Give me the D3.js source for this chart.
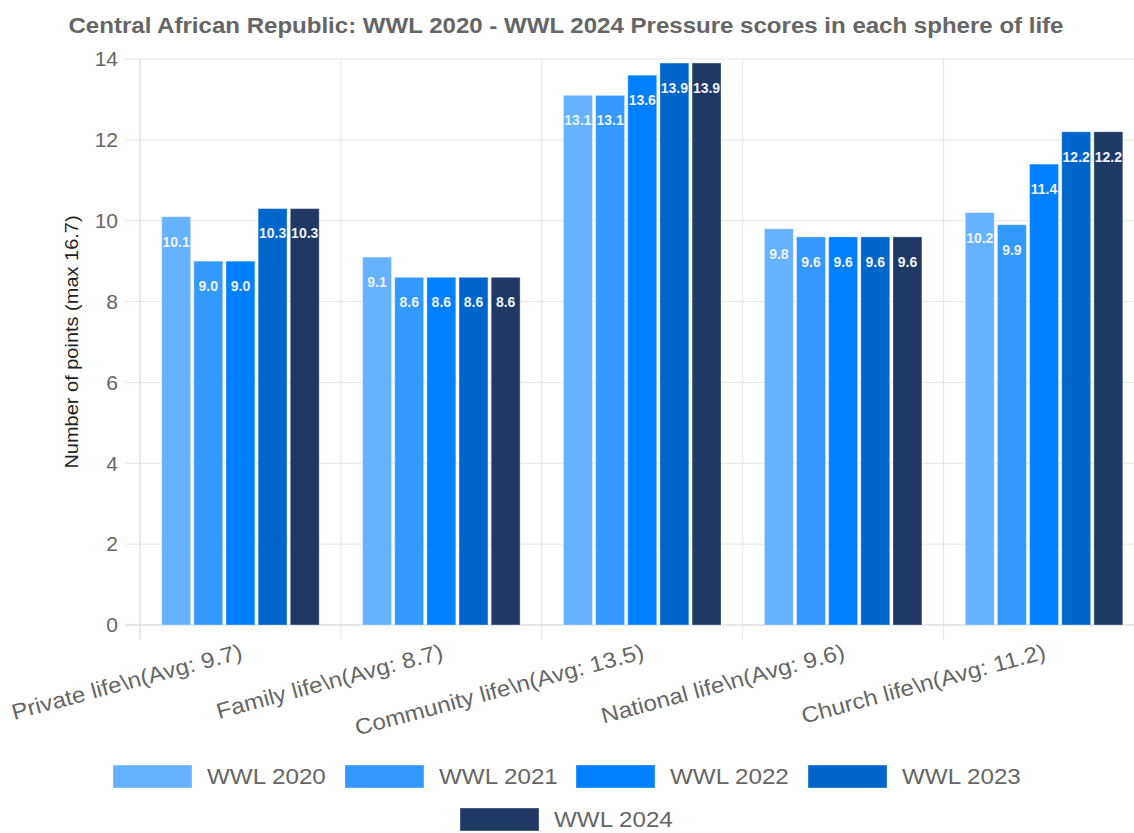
<!DOCTYPE html>
<html>
<head>
<meta charset="utf-8">
<script src="https://cdn.jsdelivr.net/npm/d3@7"></script>
<style>
  html, body { margin: 0; padding: 0; background: #fff; }
  svg { display: block; font-family: "Liberation Sans", Arial, sans-serif; }
</style>
</head>
<body>
<svg id="chart" width="1134" height="833"></svg>
<script>
const categories = [
  "Private life\\n(Avg: 9.7)",
  "Family life\\n(Avg: 8.7)",
  "Community life\\n(Avg: 13.5)",
  "National life\\n(Avg: 9.6)",
  "Church life\\n(Avg: 11.2)"
];
const seriesNames = ["WWL 2020", "WWL 2021", "WWL 2022", "WWL 2023", "WWL 2024"];
const wwl2020 = [10.1, 9.1, 13.1, 9.8, 10.2];
const wwl2021 = [9.0, 8.6, 13.1, 9.6, 9.9];
const wwl2022 = [9.0, 8.6, 13.6, 9.6, 11.4];
const wwl2023 = [10.3, 8.6, 13.9, 9.6, 12.2];
const wwl2024 = [10.3, 8.6, 13.9, 9.6, 12.2];
const seriesValues = [wwl2020, wwl2021, wwl2022, wwl2023, wwl2024];
const colors = ["#66b2ff", "#3399ff", "#0080ff", "#0066cc", "#1f3864"];
const yTicks = [0, 2, 4, 6, 8, 10, 12, 14];

const svg = d3.select("#chart");
const pLeft = 140, pRight = 1144.5, pTop = 59, pBottom = 625;
const STRETCH = 1.1;

function stretch(sel, factor) {
  sel.each(function () {
    const len = this.getComputedTextLength();
    d3.select(this).attr("textLength", len * factor).attr("lengthAdjust", "spacingAndGlyphs");
  });
}

const x0 = d3.scaleBand().domain(categories).range([pLeft, pRight]).paddingInner(0).paddingOuter(0);
const y = d3.scaleLinear().domain([0, 14]).range([pBottom, pTop]);

// Chart.js-like categoryPercentage 0.8 / barPercentage 0.9
const catW = x0.bandwidth();
const x1 = d3.scaleBand().domain(seriesNames).range([catW * 0.1, catW * 0.9]).paddingInner(0).paddingOuter(0);
const slot = x1.bandwidth();
const barW = slot * 0.9;
const barX = (ci, si) => x0(categories[ci]) + x1(seriesNames[si]) + (slot - barW) / 2;

// horizontal grid
const grid = svg.append("g");
grid.selectAll("line.h").data(yTicks).join("line")
  .attr("x1", pLeft - 15).attr("x2", 1134)
  .attr("y1", d => y(d)).attr("y2", d => y(d))
  .attr("stroke", "#e6e6e6").attr("stroke-width", 1);
// vertical grid at category boundaries
const bounds = categories.map(c => x0(c));
grid.selectAll("line.v").data(bounds).join("line")
  .attr("x1", d => d).attr("x2", d => d)
  .attr("y1", pTop).attr("y2", pBottom + 15)
  .attr("stroke", "#e6e6e6").attr("stroke-width", 1);
// axis lines
svg.append("line").attr("x1", pLeft).attr("x2", pLeft).attr("y1", pTop).attr("y2", pBottom + 15)
  .attr("stroke", "#dcdcdc");
svg.append("line").attr("x1", pLeft - 15).attr("x2", 1134).attr("y1", pBottom).attr("y2", pBottom)
  .attr("stroke", "#dcdcdc");

// y tick labels
svg.append("g").selectAll("text").data(yTicks).join("text")
  .attr("x", pLeft - 22).attr("y", d => y(d))
  .attr("dy", "0.35em").attr("text-anchor", "end")
  .attr("font-size", 21).attr("fill", "#666")
  .text(d => d);

// y title
svg.append("text")
  .attr("transform", `translate(78,${(pTop + pBottom) / 2 + 0}) rotate(-90)`)
  .attr("text-anchor", "middle").attr("font-size", 18).attr("fill", "#222")
  .text("Number of points (max 16.7)")
  .call(stretch, 1.11);

// bars
seriesValues.forEach((vals, si) => {
  const g = svg.append("g");
  g.selectAll("rect").data(vals).join("rect")
    .attr("x", (d, ci) => barX(ci, si))
    .attr("y", d => y(d))
    .attr("width", barW)
    .attr("height", d => pBottom - y(d))
    .attr("fill", colors[si])
    .attr("stroke", "rgba(255,255,255,0.35)")
    .attr("stroke-width", 1);
  g.selectAll("text").data(vals).join("text")
    .attr("x", (d, ci) => barX(ci, si) + barW / 2)
    .attr("y", d => y(d) + 25)
    .attr("dy", "0.35em")
    .attr("text-anchor", "middle")
    .attr("font-size", 14).attr("font-weight", "bold")
    .attr("fill", "#eef2f7")
    .text(d => d.toFixed(1));
});

// x labels
svg.append("g").selectAll("text").data(categories).join("text")
  .attr("transform", c => `translate(${x0(c) + catW / 2 + 1},${651}) rotate(-15)`)
  .attr("text-anchor", "end").attr("dy", "0.35em")
  .attr("font-size", 22).attr("fill", "#666")
  .text(c => c)
  .call(stretch, STRETCH);

// title
svg.append("text")
  .attr("x", 566).attr("y", 25).attr("dy", "0.35em")
  .attr("text-anchor", "middle").attr("font-size", 22).attr("font-weight", "bold")
  .attr("fill", "#666")
  .text("Central African Republic: WWL 2020 - WWL 2024 Pressure scores in each sphere of life")
  .attr("textLength", 995).attr("lengthAdjust", "spacingAndGlyphs");

// legend
const legendPos = [
  { bx: 113, by: 765 }, { bx: 345, by: 765 }, { bx: 576, by: 765 }, { bx: 808, by: 765 },
  { bx: 460, by: 808 }
];
const lg = svg.append("g");
seriesNames.forEach((name, i) => {
  const p = legendPos[i];
  lg.append("rect").attr("x", p.bx).attr("y", p.by).attr("width", 79).attr("height", 23)
    .attr("fill", colors[i]).attr("stroke", "rgba(255,255,255,0.35)");
  lg.append("text").attr("x", p.bx + 94).attr("y", p.by + 11.5).attr("dy", "0.35em")
    .attr("font-size", 22).attr("fill", "#666").text(name)
    .call(stretch, STRETCH);
});
</script>
</body>
</html>
